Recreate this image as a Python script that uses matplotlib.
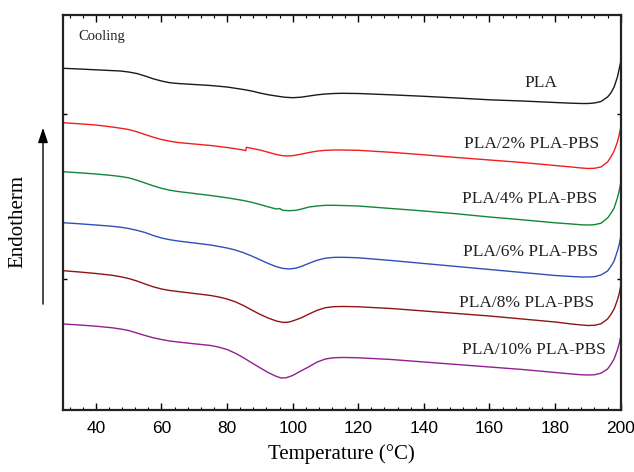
import matplotlib.pyplot as plt
import matplotlib.ticker as mticker

# DSC cooling curves, heat flow in arbitrary units (endotherm up)
T_pla = [30, 35, 40, 45, 47.5, 50, 52.5, 55, 57.5, 60, 62.5, 65, 70, 75, 80, 85, 87.5, 90,
         92.5, 95, 97.5, 100, 102.5, 105, 107.5, 110, 112.5, 115, 120, 130, 140, 150, 160,
         170, 180, 185, 188, 190, 192, 194, 196, 197, 198, 199, 199.6, 200]
pla = [3.417, 3.41, 3.402, 3.394, 3.39, 3.38, 3.365, 3.34, 3.312, 3.29, 3.273, 3.265, 3.255,
       3.245, 3.23, 3.205, 3.19, 3.17, 3.153, 3.14, 3.128, 3.123, 3.128, 3.14, 3.152, 3.16,
       3.165, 3.167, 3.165, 3.152, 3.137, 3.12, 3.102, 3.09, 3.075, 3.068, 3.065, 3.065,
       3.07, 3.085, 3.13, 3.17, 3.23, 3.33, 3.42, 3.48]

T_2 = [30, 35, 40, 45, 47.5, 50, 52.5, 55, 57.5, 60, 62.5, 65, 70, 75, 80, 85, 85.7, 85.9,
       90, 92.5, 95, 97, 98.5, 100, 102.5, 105, 107.5, 110, 112.5, 115, 120, 130, 140, 150,
       160, 170, 180, 185, 188, 190, 192, 194, 196, 197, 198, 199, 199.6, 200]
pbs2 = [2.873, 2.862, 2.85, 2.83, 2.818, 2.805, 2.782, 2.755, 2.728, 2.705, 2.688, 2.675,
        2.66, 2.645, 2.625, 2.6, 2.593, 2.627, 2.6, 2.578, 2.555, 2.543, 2.54, 2.543, 2.558,
        2.575, 2.589, 2.597, 2.6, 2.6, 2.597, 2.577, 2.552, 2.525, 2.5, 2.475, 2.445, 2.43,
        2.42, 2.415, 2.417, 2.43, 2.48, 2.53, 2.59, 2.68, 2.76, 2.82]

T_4 = [30, 35, 40, 45, 47.5, 50, 52.5, 55, 57.5, 60, 62.5, 65, 70, 75, 80, 85, 87.5, 90,
       92.5, 95, 96, 97, 99, 101, 103, 105, 107.5, 110, 112.5, 115, 120, 130, 140, 150, 160,
       170, 180, 185, 188, 190, 192, 194, 196, 197, 198, 199, 199.6, 200]
pbs4 = [2.383, 2.372, 2.36, 2.345, 2.335, 2.322, 2.298, 2.27, 2.242, 2.217, 2.198, 2.185,
        2.165, 2.145, 2.122, 2.095, 2.077, 2.055, 2.032, 2.01, 2.015, 1.997, 1.993, 1.997,
        2.012, 2.03, 2.04, 2.047, 2.047, 2.045, 2.04, 2.015, 1.99, 1.962, 1.93, 1.902, 1.872,
        1.86, 1.852, 1.85, 1.853, 1.868, 1.92, 1.965, 2.02, 2.12, 2.2, 2.27]

T_6 = [30, 35, 40, 45, 47.5, 50, 52.5, 55, 57.5, 60, 62.5, 65, 70, 75, 80, 82.5, 85, 87.5,
       90, 92.5, 95, 97, 99, 101, 103, 105, 107.5, 110, 112.5, 115, 117.5, 120, 130, 140,
       150, 160, 170, 180, 185, 188, 190, 192, 194, 196, 197, 198, 199, 199.6, 200]
pbs6 = [1.873, 1.862, 1.85, 1.837, 1.828, 1.815, 1.797, 1.775, 1.745, 1.72, 1.703, 1.69,
        1.67, 1.65, 1.62, 1.6, 1.573, 1.54, 1.503, 1.466, 1.433, 1.416, 1.41, 1.418, 1.44,
        1.467, 1.498, 1.518, 1.526, 1.527, 1.525, 1.522, 1.495, 1.465, 1.435, 1.405, 1.375,
        1.345, 1.335, 1.33, 1.33, 1.333, 1.35, 1.39, 1.435, 1.49, 1.59, 1.66, 1.73]

T_8 = [30, 35, 40, 45, 47.5, 50, 52.5, 55, 57.5, 60, 62.5, 65, 70, 75, 77.5, 80, 82.5, 85,
       87.5, 90, 92.5, 95, 97, 98.5, 100, 102.5, 105, 107.5, 110, 112.5, 115, 117.5, 120,
       130, 140, 150, 160, 170, 180, 185, 188, 190, 192, 194, 196, 197, 198, 199, 199.6, 200]
pbs8 = [1.393, 1.38, 1.365, 1.347, 1.333, 1.315, 1.29, 1.26, 1.232, 1.21, 1.195, 1.185,
        1.165, 1.145, 1.13, 1.11, 1.082, 1.045, 1.0, 0.957, 0.92, 0.89, 0.876, 0.877, 0.89,
        0.92, 0.96, 0.997, 1.023, 1.033, 1.035, 1.034, 1.032, 1.015, 0.99, 0.965, 0.94, 0.91,
        0.88, 0.86, 0.85, 0.845, 0.847, 0.862, 0.91, 0.955, 1.01, 1.1, 1.17, 1.24]

T_10 = [30, 35, 40, 45, 47.5, 50, 52.5, 55, 57.5, 60, 62.5, 65, 70, 75, 77.5, 80, 82.5, 85,
        87.5, 90, 92.5, 95, 96.5, 98, 100, 102.5, 105, 107.5, 110, 112.5, 115, 117.5, 120,
        130, 140, 150, 160, 170, 180, 185, 188, 190, 192, 194, 196, 197, 198, 199, 199.6, 200]
pbs10 = [0.86, 0.85, 0.838, 0.822, 0.81, 0.795, 0.77, 0.745, 0.722, 0.705, 0.69, 0.68, 0.662,
         0.645, 0.628, 0.605, 0.568, 0.523, 0.472, 0.423, 0.375, 0.336, 0.32, 0.322, 0.345,
         0.39, 0.433, 0.48, 0.51, 0.522, 0.525, 0.524, 0.522, 0.505, 0.48, 0.455, 0.43,
         0.405, 0.375, 0.36, 0.352, 0.35, 0.352, 0.368, 0.41, 0.455, 0.51, 0.6, 0.67, 0.73]

labels = ['PLA', 'PLA/2% PLA-PBS', 'PLA/4% PLA-PBS', 'PLA/6% PLA-PBS',
          'PLA/8% PLA-PBS', 'PLA/10% PLA-PBS']
colors = ['#1a1a1a', '#f01e1e', '#12873a', '#3050b8', '#8e1515', '#902090']
label_x = [175.7, 172.8, 172.3, 172.5, 171.3, 173.7]
label_y = [3.27, 2.66, 2.11, 1.58, 1.073, 0.597]

curves = [(T_pla, pla), (T_2, pbs2), (T_4, pbs4), (T_6, pbs6), (T_8, pbs8), (T_10, pbs10)]

serif = 'Liberation Serif'
fig = plt.figure(figsize=(6.34, 4.72), dpi=100)
ax = fig.add_axes([0.0994, 0.1314, 0.8796, 0.8368])

for (t, y), c, lab, lx, ly in zip(curves, colors, labels, label_x, label_y):
    ax.plot(t, y, color=c, lw=1.0, solid_joinstyle='round')
    ax.text(lx, ly, lab, ha='center', va='center', fontsize=12.5, family=serif, color='#222222')

ax.text(34.6, 3.74, 'Cooling', ha='left', va='center', fontsize=10.5, family=serif, color='#222222')

ax.set_xlim(30, 200)
ax.set_ylim(0, 3.95)
ax.xaxis.set_major_locator(mticker.MultipleLocator(20))
ax.xaxis.set_minor_locator(mticker.MultipleLocator(4))
ax.set_yticks([1.305, 2.96])
ax.set_yticklabels([])
ax.tick_params(axis='x', which='major', direction='in', top=True, length=5, width=1.0,
               labelsize=12.5, pad=8)
ax.tick_params(axis='x', which='minor', direction='in', top=True, length=2.5, width=0.8)
ax.tick_params(axis='y', which='major', direction='in', right=True, length=3, width=1.0)
for lab in ax.get_xticklabels():
    lab.set_family('Liberation Sans')
for s in ax.spines.values():
    s.set_linewidth(1.6)
    s.set_color('#222222')

ax.set_xlabel('Temperature (°C)', fontsize=15, family=serif, labelpad=6)
ax.text(-0.0807, 0.476, 'Endotherm', transform=ax.transAxes, rotation=90, ha='center',
        va='center', fontsize=15, family=serif)
ax.annotate('', xy=(-0.0359, 0.7215), xytext=(-0.0359, 0.261), xycoords='axes fraction',
            textcoords='axes fraction', annotation_clip=False,
            arrowprops=dict(arrowstyle='-|>,head_length=0.9,head_width=0.3', color='black', lw=1.0))

fig.savefig('out.png', dpi=100)
